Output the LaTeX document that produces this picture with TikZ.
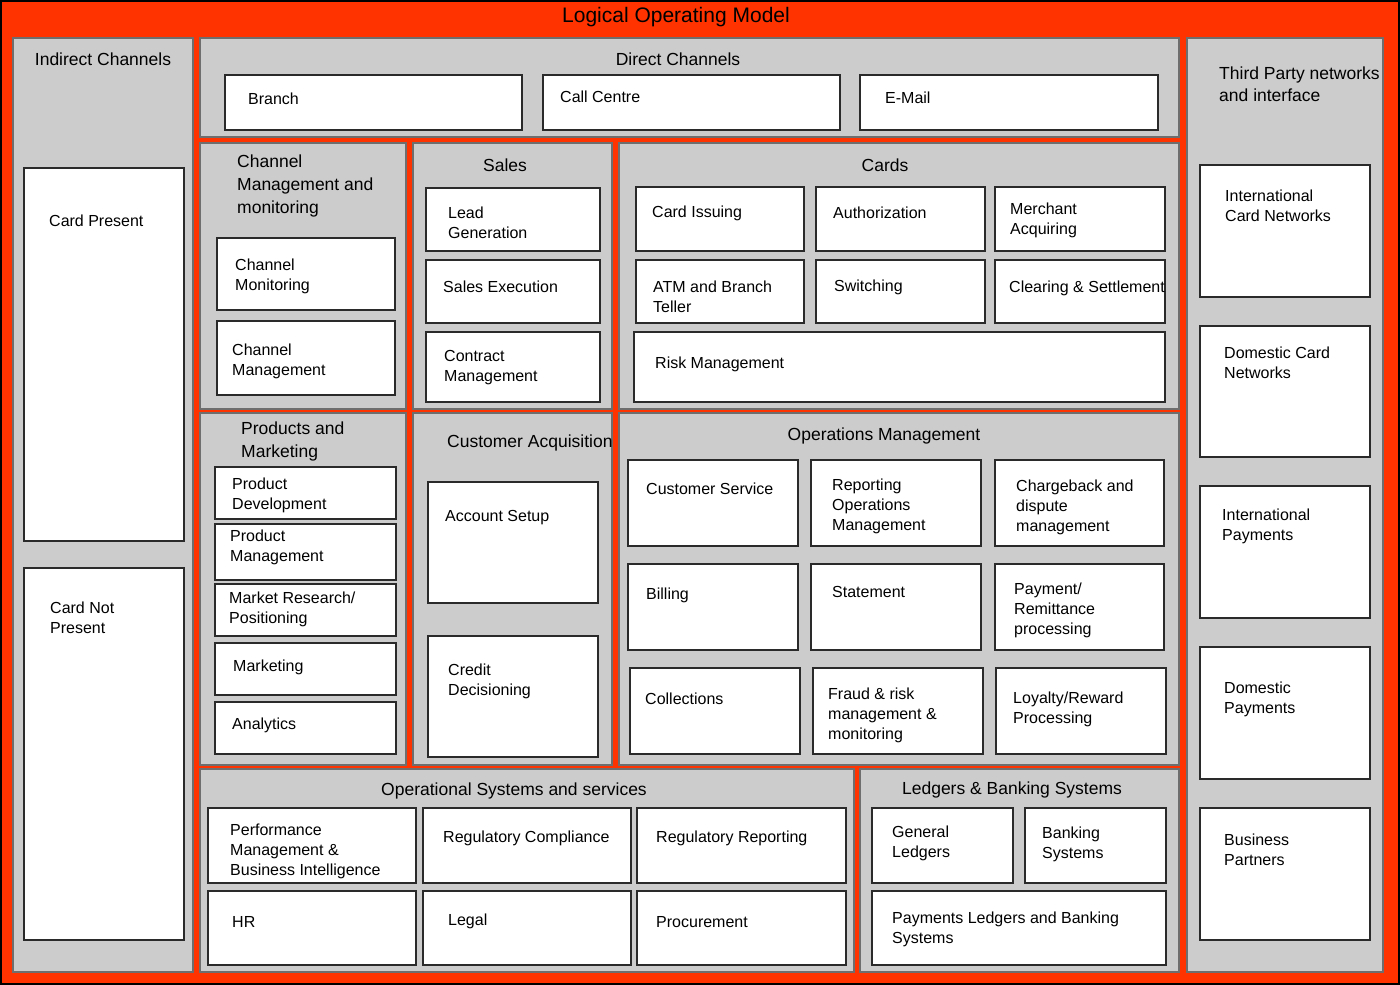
\documentclass[tikz,border=0pt]{standalone}
\usepackage{fontspec}
\setmainfont{Liberation Sans}
\definecolor{bgred}{HTML}{FF3300}
\definecolor{pgray}{HTML}{CCCCCC}
\definecolor{pedge}{HTML}{6E6E6E}
\definecolor{bedge}{HTML}{2A2A2A}
\tikzset{
 panel/.style={fill=pgray, draw=pedge, line width=1.2pt},
 wbox/.style={fill=white, draw=bedge, line width=2pt},
 txt/.style={inner sep=0pt, align=left, font=\fontsize{16}{20}\selectfont, anchor=west, text=black, yshift=-1pt},
 ttl/.style={inner sep=0pt, align=left, font=\fontsize{17.5}{23}\selectfont, text=black, yshift=-1pt},
}
\newcommand\wb[8]{\draw[wbox] (#2,#3) rectangle (#4,#5); \node[txt] (#1) at (#6,#7) {#8};}
\begin{document}
\begin{tikzpicture}[x=1pt,y=-1pt]
\useasboundingbox (0,0) rectangle (1400,985);
\fill[bgred] (0,0) rectangle (1400,985);
\draw[black, line width=2.5pt] (1,1) rectangle (1399,984);
\node[ttl, font=\fontsize{21}{25}\selectfont, anchor=center, yshift=-1pt] (title) at (676,15) {Logical Operating Model};

% panels
\draw[panel] (13,38) rectangle (193,972);
\draw[panel] (200,38) rectangle (1179,137);
\draw[panel] (200,143) rectangle (406,409);
\draw[panel] (413,143) rectangle (612,409);
\draw[panel] (619,143) rectangle (1179,409);
\draw[panel] (200,413) rectangle (406,765);
\draw[panel] (413,413) rectangle (612,765);
\draw[panel] (619,413) rectangle (1179,765);
\draw[panel] (200,769) rectangle (854,972);
\draw[panel] (860,769) rectangle (1179,972);
\draw[panel] (1187,38) rectangle (1383,972);

% panel titles
\node[ttl, anchor=center] (t-ind) at (103,58) {Indirect Channels};
\node[ttl, anchor=center] (t-dir) at (678,58) {Direct Channels};
\node[ttl, anchor=west] (t-chm) at (237,185) {Channel\\Management and\\monitoring};
\node[ttl, anchor=center] (t-sal) at (505,164) {Sales};
\node[ttl, anchor=center] (t-crd) at (885,164) {Cards};
\node[ttl, anchor=west] (t-pm) at (241,440.5) {Products and\\Marketing};
\node[ttl, anchor=west] (t-ca) at (447,442) {Customer Acquisition};
\node[ttl, anchor=center] (t-om) at (884,435) {Operations Management};
\node[ttl, anchor=center] (t-os) at (514,790) {Operational Systems and services};
\node[ttl, anchor=center] (t-lb) at (1012,789) {Ledgers \& Banking Systems};
\node[ttl, anchor=west, font=\fontsize{17.5}{22}\selectfont] (t-tp) at (1219,83) {Third Party networks\\and interface};

% indirect
\wb{cp}{24}{168}{184}{541}{49}{220}{Card Present}
\wb{cnp}{24}{568}{184}{940}{50}{617}{Card Not\\Present}
% direct
\wb{br}{225}{75}{522}{130}{248}{98}{Branch}
\wb{cc}{543}{75}{840}{130}{560}{96}{Call Centre}
\wb{em}{860}{75}{1158}{130}{885}{97}{E-Mail}
% channel mgmt
\wb{cmo}{217}{238}{395}{310}{235}{275}{Channel\\Monitoring}
\wb{cma}{217}{321}{395}{395}{232}{360}{Channel\\Management}
% sales
\wb{lg}{426}{188}{600}{251}{448}{222}{Lead\\Generation}
\wb{se}{426}{260}{600}{323}{443}{286}{Sales Execution}
\wb{cm}{426}{332}{600}{402}{444}{367}{Contract\\Management}
% cards
\wb{ci}{636}{187}{804}{251}{652}{212}{Card Issuing}
\wb{au}{816}{187}{985}{251}{833}{212}{Authorization}
\wb{ma}{995}{187}{1165}{251}{1010}{219.5}{Merchant\\Acquiring}
\wb{atm}{636}{260}{804}{323}{653}{296}{ATM and Branch\\Teller}
\wb{sw}{816}{260}{985}{323}{834}{286}{Switching}
\wb{cs}{995}{260}{1165}{323}{1009}{287}{Clearing \& Settlement}
\wb{rm}{634}{332}{1165}{402}{655}{363}{Risk Management}
% products
\wb{pd}{215}{467}{396}{519}{232}{494}{Product\\Development}
\wb{pmg}{215}{524}{396}{580}{230}{546}{Product\\Management}
\wb{mr}{215}{584}{396}{636}{229}{608}{Market Research/\\Positioning}
\wb{mk}{215}{643}{396}{695}{233}{666}{Marketing}
\wb{an}{215}{702}{396}{754}{232}{724}{Analytics}
% customer acquisition
\wb{as}{428}{482}{598}{603}{445}{517}{Account Setup}
\wb{cd}{428}{636}{598}{757}{448}{680}{Credit\\Decisioning}
% operations
\wb{csv}{628}{460}{798}{546}{646}{488}{Customer Service}
\wb{rom}{811}{460}{981}{546}{832}{505}{Reporting\\Operations\\Management}
\wb{cb}{995}{460}{1164}{546}{1016}{506}{Chargeback and\\dispute\\management}
\wb{bil}{628}{564}{798}{650}{646}{594}{Billing}
\wb{st}{811}{564}{981}{650}{832}{591}{Statement}
\wb{pay}{995}{564}{1164}{650}{1014}{609}{Payment/\\Remittance\\processing}
\wb{col}{630}{668}{800}{754}{645}{698}{Collections}
\wb{fr}{813}{668}{983}{754}{828}{714.5}{Fraud \& risk\\management \&\\monitoring}
\wb{loy}{996}{668}{1166}{754}{1013}{708}{Loyalty/Reward\\Processing}
% operational systems
\wb{pmbi}{208}{808}{416}{883}{230}{850.5}{Performance\\Management \&\\Business Intelligence}
\wb{rc}{423}{808}{631}{883}{443}{837}{Regulatory Compliance}
\wb{rr}{637}{808}{846}{883}{656}{837}{Regulatory Reporting}
\wb{hr}{208}{891}{416}{965}{232}{921}{HR}
\wb{lgl}{423}{891}{631}{965}{448}{920}{Legal}
\wb{pro}{637}{891}{846}{965}{656}{921}{Procurement}
% ledgers
\wb{gl}{872}{808}{1013}{883}{892}{842}{General\\Ledgers}
\wb{bs}{1025}{808}{1166}{883}{1042}{843}{Banking\\Systems}
\wb{plb}{872}{891}{1166}{965}{892}{928}{Payments Ledgers and Banking\\Systems}
% third party
\wb{icn}{1200}{165}{1370}{297}{1225}{205}{International\\Card Networks}
\wb{dcn}{1200}{326}{1370}{457}{1224}{362}{Domestic Card\\Networks}
\wb{ip}{1200}{486}{1370}{618}{1222}{525}{International\\Payments}
\wb{dp}{1200}{647}{1370}{779}{1224}{698}{Domestic\\Payments}
\wb{bp}{1200}{808}{1370}{940}{1224}{849}{Business\\Partners}
\end{tikzpicture}
\end{document}
